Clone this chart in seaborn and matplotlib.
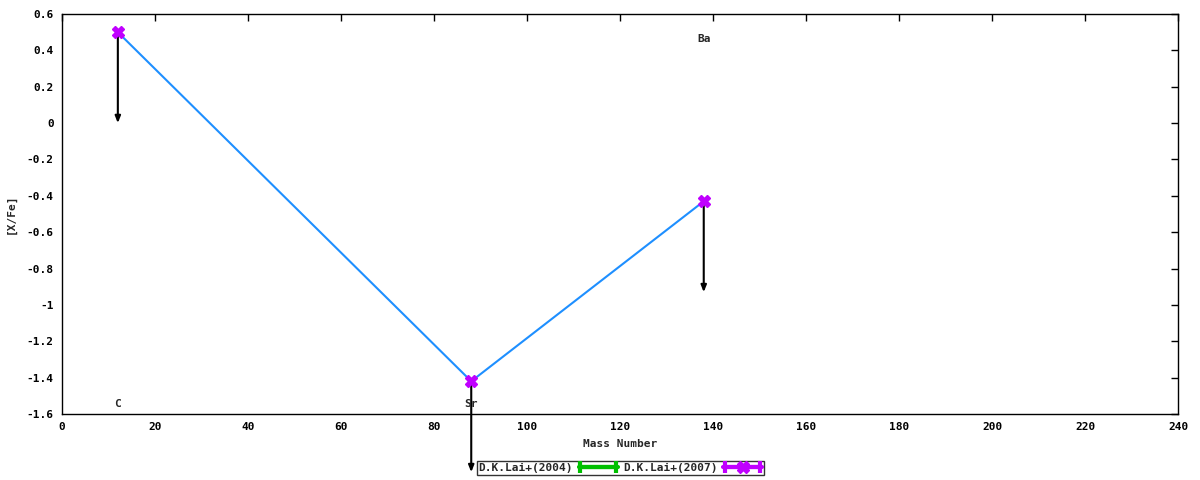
import numpy as np
import seaborn as sns
import matplotlib.pyplot as plt
from matplotlib.legend_handler import HandlerErrorbar

# data
elements = ['C', 'Sr', 'Ba']
mass = [12, 88, 138]
xfe = [0.50, -1.42, -0.43]
limit_len = [0.5, 0.5, 0.5]          # upper-limit arrows
label_x = [12, 88, 138]
label_y = [-1.545, -1.545, 0.465]
series = ['D.K.Lai+(2004)', 'D.K.Lai+(2007)']

sns.set_theme(style="white")
plt.rcParams['font.family'] = ['DejaVu Sans Mono', 'DejaVu Sans']
plt.rcParams['font.size'] = 8

fig = plt.figure(figsize=(12, 4.8), dpi=100)
ax = fig.add_axes([0.0517, 0.1375, 0.9300, 0.8333])

sns.lineplot(x=mass, y=xfe, color='#1e8fff', lw=1.5, ax=ax)
ax.plot(mass, xfe, ls='none', marker='X', ms=8, color='#c000ff',
        mec='#c000ff', zorder=5)

for m, v, d in zip(mass, xfe, limit_len):
    ax.annotate('', xy=(m, v - d), xytext=(m, v), annotation_clip=False,
                arrowprops=dict(arrowstyle='-|>,head_width=0.2,head_length=0.5',
                                color='black', lw=1.5, shrinkA=0, shrinkB=0))

for e, x, y in zip(elements, label_x, label_y):
    ax.text(x, y, e, ha='center', va='center', fontsize=8, fontweight='bold')

ax.set_xlim(0, 240)
ax.set_ylim(-1.6, 0.6)
yt = np.round(np.arange(-1.6, 0.61, 0.2), 1) + 0.0
ax.set_xticks(np.arange(0, 241, 20))
ax.set_yticks(yt)
ax.set_yticklabels(['%g' % (0.0 if abs(t) < 1e-9 else t) for t in yt])
ax.tick_params(direction='in', length=5, width=1, top=True, right=True,
               labelsize=8, pad=6, colors='black')
for lab in ax.get_xticklabels() + ax.get_yticklabels():
    lab.set_fontweight('bold')
for s in ax.spines.values():
    s.set_color('black')
    s.set_linewidth(1)

ax.set_xlabel('Mass Number', fontsize=8, fontweight='bold', labelpad=5)
ax.set_ylabel('[X/Fe]', fontsize=8, fontweight='bold', labelpad=8)

# legend samples drawn like gnuplot xerrorbars
h1 = ax.errorbar([np.nan], [np.nan], xerr=[1], color='#00c000', lw=3,
                 capsize=4, capthick=3, marker='none')
h2 = ax.errorbar([np.nan], [np.nan], xerr=[1], color='#c000ff', lw=3,
                 capsize=4, capthick=3, marker='X', ms=8)
leg = ax.legend([h1, h2], series,
                loc='center', bbox_to_anchor=(0.5003, -0.135), ncol=2,
                markerfirst=False, frameon=True, fancybox=False,
                borderpad=0.15, handlelength=3.5, columnspacing=0.5,
                handletextpad=0.5, borderaxespad=0,
                handler_map={type(h1): HandlerErrorbar(xerr_size=1.6)},
                prop=dict(size=8, weight='bold'))
leg.get_frame().set_edgecolor('black')
leg.get_frame().set_linewidth(1)

fig.savefig('out.png', dpi=100)
